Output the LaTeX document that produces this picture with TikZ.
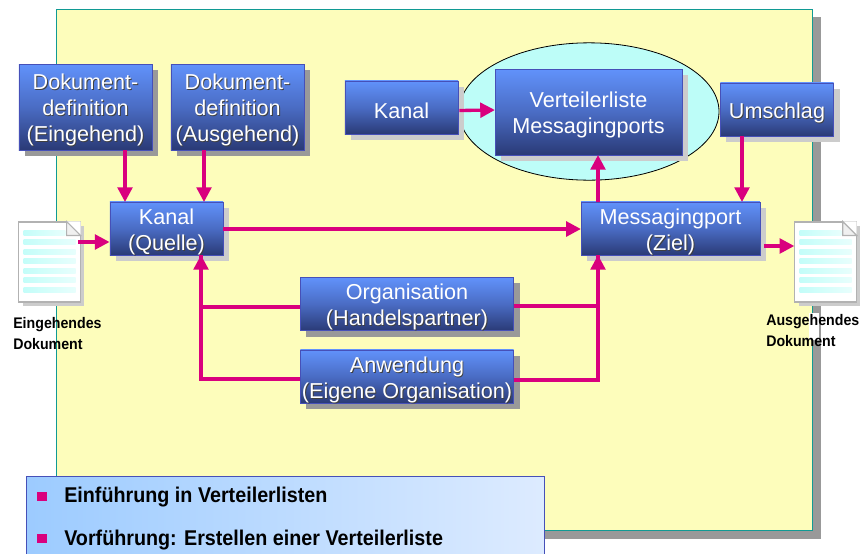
\documentclass[tikz,border=0pt]{standalone}
\usepackage{fontspec}
\setmainfont{Liberation Sans}
\newfontfamily\schmal[FakeStretch=.925]{Liberation Sans}
\usepackage{tikz}
\usetikzlibrary{shapes,calc,shadows,arrows.meta,positioning}
\definecolor{PFEIL}{HTML}{D9007E}
\definecolor{RAHMEN}{HTML}{109A94}
\definecolor{GELB}{HTML}{FDFDBB}
\definecolor{KTOP}{HTML}{6192FB}
\definecolor{KMID}{HTML}{4A6CC4}
\definecolor{KBOT}{HTML}{2A3A76}
\definecolor{KRAND}{HTML}{4650B8}
\definecolor{ZYAN}{HTML}{BDFDF8}
\definecolor{LLINKS}{HTML}{9CCBFF}
\definecolor{LRECHTS}{HTML}{DDEBFF}
\newcommand{\ohn}[1]{\raisebox{-2.3pt}[\height][\depth]{#1}}
\newcommand{\sht}[1]{\leavevmode\rlap{\kern.7pt\raisebox{-3pt}[0pt][0pt]{\textcolor{black!75}{#1}}}\ohn{#1}}
\begin{document}
\begin{tikzpicture}[x=.75pt,y=-.75pt]
  \tikzstyle{kasten} = [rectangle,draw=KRAND,top color=KTOP,bottom color=KBOT,middle color=KMID,text=white,font=\fontsize{16.2}{19.5}\selectfont,align=center,inner sep=0pt,anchor=center]
  \tikzstyle{schattenD} = [general shadow={shadow xshift=4.5pt,shadow yshift=-4.5pt,fill=black!40}]
  \tikzstyle{schattenH} = [general shadow={shadow xshift=4.5pt,shadow yshift=-4.5pt,fill=black!20}]
  \tikzstyle{pfeil} = [draw=PFEIL,line width=2.5pt,-{Triangle[length=11pt,width=11pt]}]
  \tikzstyle{linie} = [draw=PFEIL,line width=2.5pt]
  \tikzstyle{beschr} = [font=\fontsize{11.5}{15.9}\selectfont\schmal\bfseries,align=left,inner sep=0pt,anchor=north west]
  \tikzstyle{punkt} = [rectangle,fill=PFEIL,minimum size=6.8pt,inner sep=0pt]
  \tikzstyle{zeile} = [font=\fontsize{16}{18}\selectfont\schmal\bfseries,inner sep=0pt,anchor=base west]
  \tikzstyle{dok} = [rectangle,draw=black!30,fill=white,line width=.8pt,minimum width=46pt,minimum height=60pt,inner sep=0pt,general shadow={shadow xshift=3pt,shadow yshift=-3pt,fill=black!20}]
  \useasboundingbox (0,0) rectangle (862,553);
  \clip (0,0) rectangle (862,553);

  % rahmen
  \node[rectangle,draw=RAHMEN,fill=GELB,line width=.8pt,minimum width=567pt,minimum height=391pt,inner sep=0pt,general shadow={shadow xshift=6pt,shadow yshift=-6pt,fill=black!40}] (Rahmen) at (434.5,270) {};

  % ellipse
  \node[ellipse,draw=black,fill=ZYAN,line width=.6pt,minimum width=195pt,minimum height=103pt,inner sep=0pt] (Oval) at (589,111.5) {};

  % kaesten
  \node[kasten,schattenD,minimum width=100pt,minimum height=64.5pt] (DE) at (85.5,107) {\sht{Dokument-}\\\sht{definition}\\\sht{(Eingehend)}};
  \node[kasten,schattenD,minimum width=100pt,minimum height=64.5pt] (DA) at (237.5,107) {\sht{Dokument-}\\\sht{definition}\\\sht{(Ausgehend)}};
  \node[kasten,schattenH,minimum width=85pt,minimum height=40pt] (KQ) at (166.5,228.5) {\ohn{Kanal}\\\sht{(Quelle)}};
  \node[kasten,schattenH,minimum width=85pt,minimum height=40pt] (K) at (401.5,107.5) {\ohn{Kanal}};
  \node[kasten,schattenH,minimum width=140pt,minimum height=64.5pt] (VL) at (588.5,112) {\ohn{Verteilerliste}\\\ohn{Messagingports}};
  \node[kasten,schattenH,minimum width=85pt,minimum height=40pt] (U) at (777,109.5) {\sht{Umschlag}};
  \node[kasten,schattenH,minimum width=134pt,minimum height=40pt] (MP) at (670.5,228.5) {\ohn{Messagingport}\\\sht{(Ziel)}};
  \node[kasten,schattenD,minimum width=160pt,minimum height=40pt] (OH) at (407,304) {\ohn{Organisation}\\\sht{(Handelspartner)}};
  \node[kasten,schattenD,minimum width=160pt,minimum height=40pt] (AE) at (407,376.5) {\sht{Anwendung}\\\sht{(Eigene Organisation)}};

  % dokumente
  \node[dok] (DokE) at (49.5,262) {};
  \node[dok] (DokA) at (825.5,262) {};
  \foreach \D in {DokE,DokA} {
    \fill[white] ([xshift=-10.5pt]\D.north east) -- (\D.north east) -- ([yshift=-10.5pt]\D.north east) -- cycle;
    \draw[black!30,fill=black!6,line width=.8pt] ([xshift=-10.5pt]\D.north east) -- ([xshift=-10.5pt,yshift=-10.5pt]\D.north east) -- ([yshift=-10.5pt]\D.north east) -- cycle;
    \shade[left color=ZYAN!90,right color=ZYAN!35] ([xshift=-42.75pt,yshift=-6.75pt]\D.north east) rectangle ([xshift=-11.5pt,yshift=-10.5pt]\D.north east);
    \foreach \z in {1,2,3,4,5,6}
      \shade[left color=ZYAN!90,right color=ZYAN!35] ([xshift=-42.75pt,yshift=-6.75pt-\z*7.1pt]\D.north east) rectangle ([xshift=-3.75pt,yshift=-10.5pt-\z*7.1pt]\D.north east);
  }
  \fill[white] (809,313) rectangle (819,340);
  \node[beschr] (LE) at (13,317) {Eingehendes\\Dokument};
  \node[beschr] (LA) at (766,314) {Ausgehendes\\Dokument};

  % pfeile
  \coordinate (a1) at (125,202);
  \coordinate (a2) at (204,202);
  \coordinate (a3) at (201,255);
  \coordinate (a4) at (598,255);
  \coordinate (a5) at (598,155);
  \coordinate (a6) at (742,202);
  \coordinate (s1) at (78,242);
  \coordinate (s2) at (764,246);
  \draw[pfeil] (a1 |- DE.south) -- (a1);
  \draw[pfeil] (a2 |- DA.south) -- (a2);
  \draw[pfeil] (s1) -- (s1 -| KQ.west);
  \draw[pfeil] (KQ.east |- 0,229) -- (MP.west |- 0,229);
  \draw[pfeil] (K.east) ++(1,3) -- (VL.west |- 0,110);
  \draw[pfeil] (a4 |- MP.north) -- (a5);
  \draw[pfeil] (a6 |- U.south) -- (a6);
  \draw[pfeil] (s2) -- (s2 -| DokA.west);
  \draw[pfeil] (OH.west |- 0,307) -| (a3);
  \draw[linie] (AE.west |- 0,379) -| (a3);
  \draw[pfeil] (OH.east |- 0,306) -| (a4);
  \draw[linie] (AE.east |- 0,380) -| (a4);

  % liste
  \node[rectangle,draw=KRAND,left color=LLINKS,right color=LRECHTS,line width=.6pt,minimum width=388.5pt,minimum height=75pt,inner sep=0pt] (Liste) at (285,526) {};
  \node[punkt] (P1) at (42,496.5) {};
  \node[punkt] (P2) at (42,538.5) {};
  \node[zeile] (Z1) at (64,502) {Einführung in Verteilerlisten};
  \node[zeile] (Z2) at (64,545) {Vorführung: Erstellen einer Verteilerliste};
\end{tikzpicture}
\end{document}
